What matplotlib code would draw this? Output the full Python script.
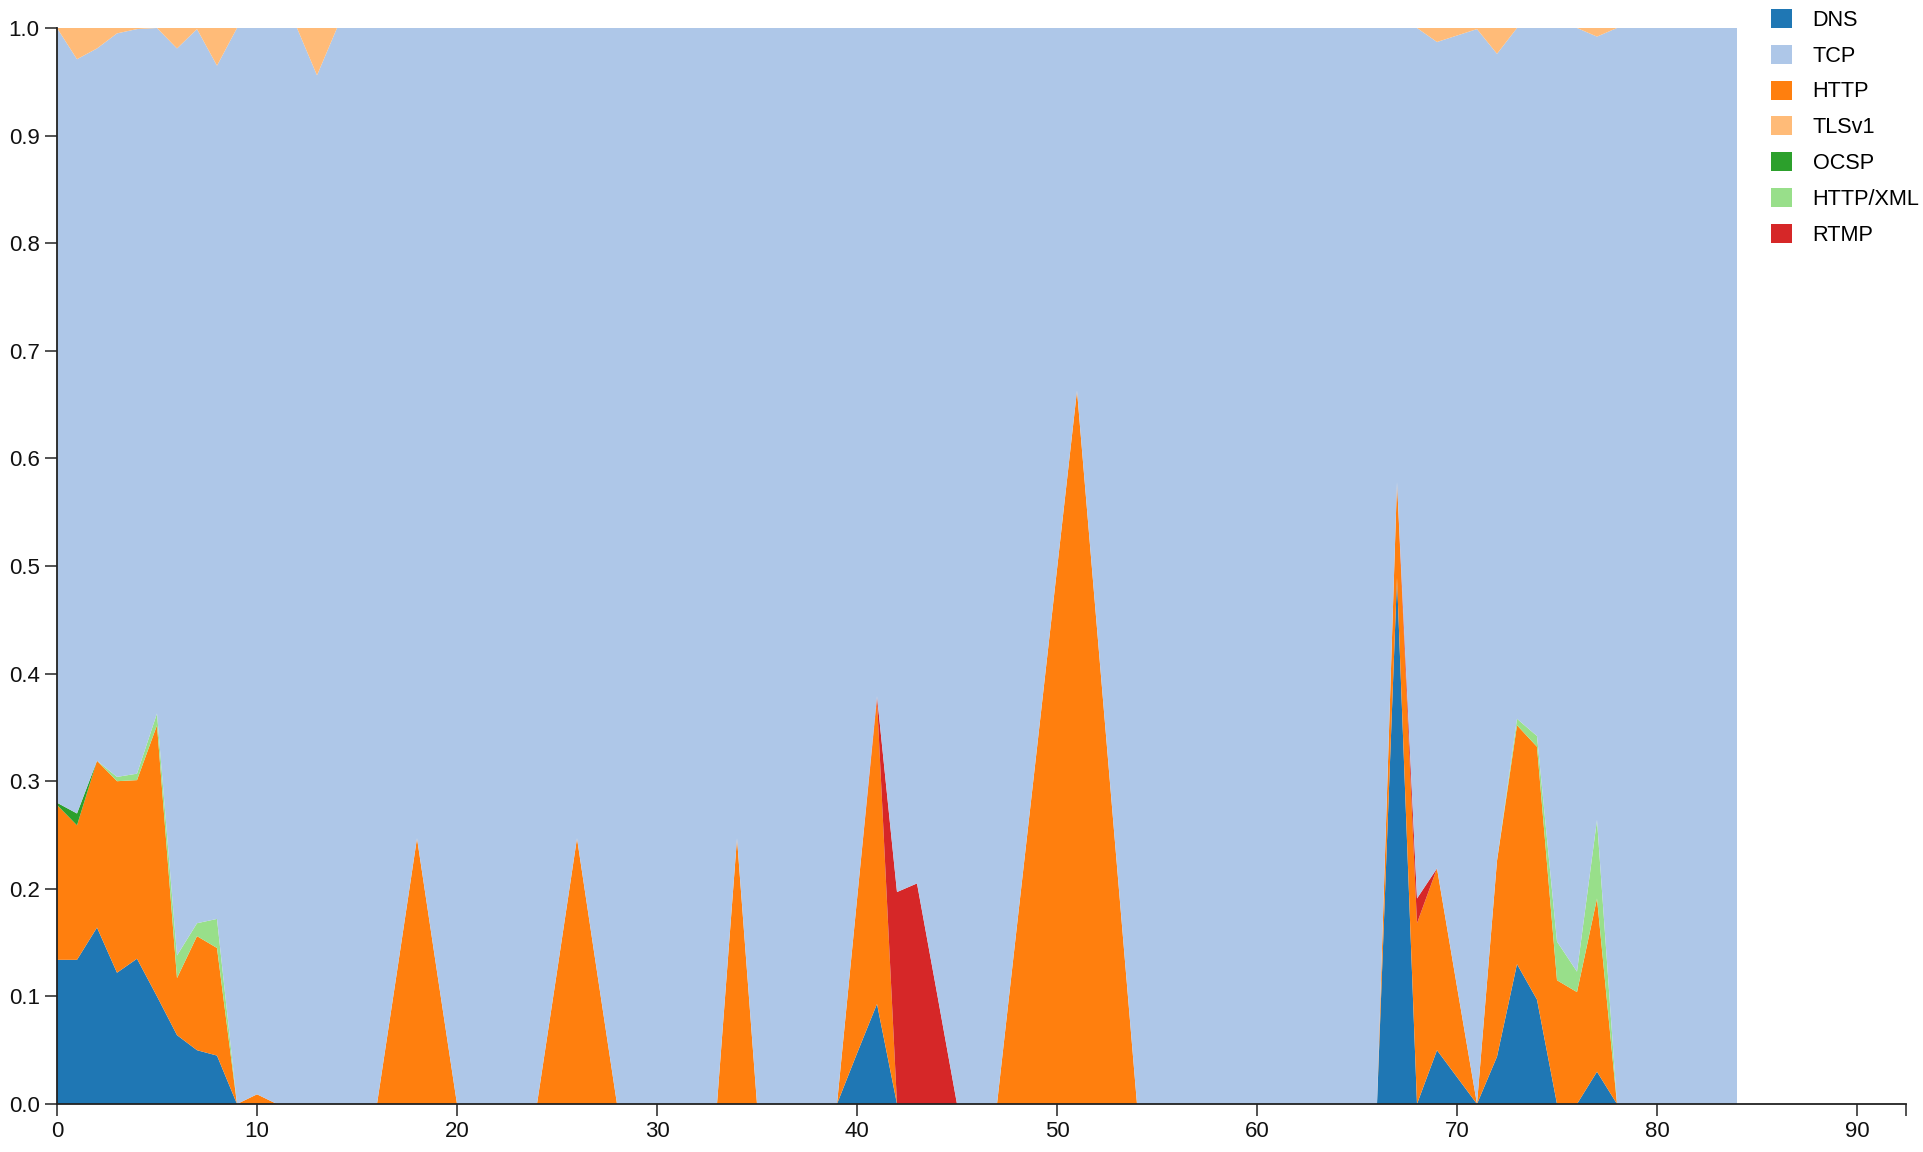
import matplotlib
matplotlib.use("Agg")
import matplotlib.pyplot as plt
from matplotlib.patches import Patch

plt.rcParams['font.family'] = ['Liberation Sans', 'DejaVu Sans']

# ---- data (fractions per time step, stacked to 1.0) ----
x = list(range(85))

dns = [0.134, 0.134, 0.164, 0.122, 0.135, 0.100, 0.064, 0.050, 0.045, 0,
       0, 0, 0, 0, 0, 0, 0, 0, 0, 0,
       0, 0, 0, 0, 0, 0, 0, 0, 0, 0,
       0, 0, 0, 0, 0, 0, 0, 0, 0, 0,
       0.047, 0.093, 0, 0, 0, 0, 0, 0, 0, 0,
       0, 0, 0, 0, 0, 0, 0, 0, 0, 0,
       0, 0, 0, 0, 0, 0, 0, 0.489, 0, 0.050,
       0.025, 0, 0.044, 0.130, 0.097, 0, 0, 0.030, 0, 0,
       0, 0, 0, 0, 0]

tcp = [0.720, 0.701, 0.662, 0.691, 0.692, 0.637, 0.843, 0.831, 0.793, 1,
       0.991, 1, 1, 0.956, 1, 1, 1, 0.877, 0.753, 0.877,
       1, 1, 1, 1, 1, 0.877, 0.753, 0.877, 1, 1,
       1, 1, 1, 1, 0.753, 1, 1, 1, 1, 1,
       0.810, 0.621, 0.803, 0.795, 0.897, 1, 1, 1, 0.834, 0.669,
       0.503, 0.337, 0.558, 0.779, 1, 1, 1, 1, 1, 1,
       1, 1, 1, 1, 1, 1, 1, 0.422, 0.809, 0.768,
       0.884, 0.999, 0.750, 0.642, 0.658, 0.849, 0.877, 0.728, 1, 1,
       1, 1, 1, 1, 1]

http = [0.144, 0.125, 0.155, 0.178, 0.166, 0.252, 0.053, 0.106, 0.100, 0,
        0.009, 0, 0, 0, 0, 0, 0, 0.123, 0.247, 0.123,
        0, 0, 0, 0, 0, 0.123, 0.247, 0.123, 0, 0,
        0, 0, 0, 0, 0.247, 0, 0, 0, 0, 0,
        0.143, 0.283, 0, 0, 0, 0, 0, 0, 0.166, 0.331,
        0.497, 0.663, 0.442, 0.221, 0, 0, 0, 0, 0, 0,
        0, 0, 0, 0, 0, 0, 0, 0.089, 0.168, 0.169,
        0.084, 0, 0.182, 0.222, 0.235, 0.115, 0.104, 0.161, 0, 0,
        0, 0, 0, 0, 0]

tlsv1 = [0, 0.029, 0.019, 0.005, 0.001, 0, 0.019, 0.001, 0.035, 0,
         0, 0, 0, 0.044, 0, 0, 0, 0, 0, 0,
         0, 0, 0, 0, 0, 0, 0, 0, 0, 0,
         0, 0, 0, 0, 0, 0, 0, 0, 0, 0,
         0, 0, 0, 0, 0, 0, 0, 0, 0, 0,
         0, 0, 0, 0, 0, 0, 0, 0, 0, 0,
         0, 0, 0, 0, 0, 0, 0, 0, 0, 0.013,
         0.007, 0.001, 0.024, 0, 0, 0, 0, 0.008, 0, 0,
         0, 0, 0, 0, 0]

ocsp = [0.002, 0.011, 0, 0, 0, 0, 0, 0, 0, 0,
        0, 0, 0, 0, 0, 0, 0, 0, 0, 0,
        0, 0, 0, 0, 0, 0, 0, 0, 0, 0,
        0, 0, 0, 0, 0, 0, 0, 0, 0, 0,
        0, 0, 0, 0, 0, 0, 0, 0, 0, 0,
        0, 0, 0, 0, 0, 0, 0, 0, 0, 0,
        0, 0, 0, 0, 0, 0, 0, 0, 0, 0,
        0, 0, 0, 0, 0, 0, 0, 0, 0, 0,
        0, 0, 0, 0, 0]

http_xml = [0, 0, 0, 0.004, 0.006, 0.011, 0.021, 0.012, 0.027, 0,
            0, 0, 0, 0, 0, 0, 0, 0, 0, 0,
            0, 0, 0, 0, 0, 0, 0, 0, 0, 0,
            0, 0, 0, 0, 0, 0, 0, 0, 0, 0,
            0, 0, 0, 0, 0, 0, 0, 0, 0, 0,
            0, 0, 0, 0, 0, 0, 0, 0, 0, 0,
            0, 0, 0, 0, 0, 0, 0, 0, 0, 0,
            0, 0, 0, 0.006, 0.010, 0.036, 0.019, 0.073, 0, 0,
            0, 0, 0, 0, 0]

rtmp = [0, 0, 0, 0, 0, 0, 0, 0, 0, 0,
        0, 0, 0, 0, 0, 0, 0, 0, 0, 0,
        0, 0, 0, 0, 0, 0, 0, 0, 0, 0,
        0, 0, 0, 0, 0, 0, 0, 0, 0, 0,
        0, 0.003, 0.197, 0.205, 0.103, 0, 0, 0, 0, 0,
        0, 0, 0, 0, 0, 0, 0, 0, 0, 0,
        0, 0, 0, 0, 0, 0, 0, 0, 0.023, 0,
        0, 0, 0, 0, 0, 0, 0, 0, 0, 0,
        0, 0, 0, 0, 0]

legend_labels = ["DNS", "TCP", "HTTP", "TLSv1", "OCSP", "HTTP/XML", "RTMP"]
colors = {"DNS": "#1f77b4", "TCP": "#aec7e8", "HTTP": "#ff7f0e", "TLSv1": "#ffbb78",
          "OCSP": "#2ca02c", "HTTP/XML": "#98df8a", "RTMP": "#d62728"}

series = {"DNS": dns, "TCP": tcp, "HTTP": http, "TLSv1": tlsv1,
          "OCSP": ocsp, "HTTP/XML": http_xml, "RTMP": rtmp}
stack_order = ["DNS", "HTTP", "OCSP", "HTTP/XML", "RTMP", "TCP", "TLSv1"]

x_ticks = [0, 10, 20, 30, 40, 50, 60, 70, 80, 90]
y_ticks = [0.0, 0.1, 0.2, 0.3, 0.4, 0.5, 0.6, 0.7, 0.8, 0.9, 1.0]

# ---- figure ----
fig = plt.figure(figsize=(19.23, 11.52), dpi=100)
ax = fig.add_axes([57/1923, 48/1152, (1906-57)/1923, (1104-28)/1152])

ax.stackplot(x, [series[k] for k in stack_order],
             colors=[colors[k] for k in stack_order], linewidth=0)

ax.set_xlim(0, 92.45)
ax.set_ylim(0, 1.0)
ax.set_xticks(x_ticks)
ax.set_xticks([92.45], minor=True)
ax.set_yticks(y_ticks)
ax.set_yticklabels([f"{v:.1f}" for v in y_ticks])

for s in ["top", "right"]:
    ax.spines[s].set_visible(False)
for s in ["left", "bottom"]:
    ax.spines[s].set_color("#222222")
    ax.spines[s].set_linewidth(1.3)
ax.tick_params(axis="both", which="both", length=8.5, width=1.3, color="#444444",
               labelsize=16, labelcolor="#111111")
ax.tick_params(axis="x", pad=4)
ax.tick_params(axis="y", pad=4)
ax.patch.set_alpha(0)

handles = [Patch(facecolor=colors[k], edgecolor="none", label=k) for k in legend_labels]
fig.legend(handles=handles, loc="upper left", bbox_to_anchor=(1771/1923, 1 - 9/1152),
           frameon=False, fontsize=15.6, handlelength=0.97, handleheight=0.97,
           handletextpad=0.95, borderpad=0, borderaxespad=0, labelspacing=0.64)

fig.savefig("out.png", dpi=100)
